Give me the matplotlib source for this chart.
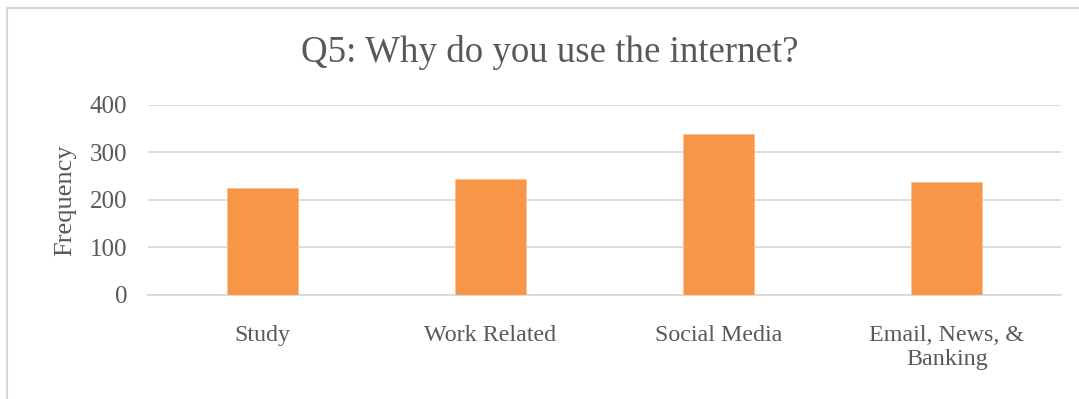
import matplotlib.pyplot as plt
from matplotlib.patches import Rectangle

categories = ["Study", "Work Related", "Social Media", "Email, News, &\nBanking"]
frequency = [225, 244, 338, 237]
yticks = [0, 100, 200, 300, 400]

text_grey = "#595959"
grid_grey = "#D9D9D9"
bar_orange = "#F79646"

plt.rcParams["font.family"] = ["Liberation Serif", "DejaVu Serif"]

fig = plt.figure(figsize=(10.79, 3.99), dpi=100)
fig.patches.append(Rectangle((7 / 1079, -0.1), 1.2, 1.1 - 8 / 399, transform=fig.transFigure,
                             fill=False, edgecolor=grid_grey, linewidth=1.5))

ax = fig.add_axes([148 / 1079, 1 - 294.7 / 399, 913 / 1079, 190 / 399])
ax.bar(range(len(categories)), frequency, width=0.31, color=bar_orange,
       edgecolor="#FAC090", linewidth=0.6, zorder=3)
ax.set_xlim(-0.5, len(categories) - 0.5)
ax.set_ylim(0, 400)
ax.set_yticks(yticks)
ax.set_xticks(range(len(categories)))
ax.set_xticklabels(categories, linespacing=1.2)
ax.grid(axis="y", color=grid_grey, linewidth=1.3, zorder=0)
for side in ["top", "right", "left"]:
    ax.spines[side].set_visible(False)
ax.spines["bottom"].set_color(grid_grey)
ax.spines["bottom"].set_linewidth(1.3)
ax.tick_params(axis="y", length=0, pad=15, labelsize=18, labelcolor=text_grey)
ax.tick_params(axis="x", length=0, pad=22, labelsize=17.3, labelcolor=text_grey)
ax.set_ylabel("Frequency", fontsize=19, color=text_grey, labelpad=10)

fig.text(550 / 1079, 1 - 53 / 399, "Q5: Why do you use the internet?", ha="center", va="center",
         fontsize=26.6, color=text_grey)

fig.savefig("out.png", dpi=100)
